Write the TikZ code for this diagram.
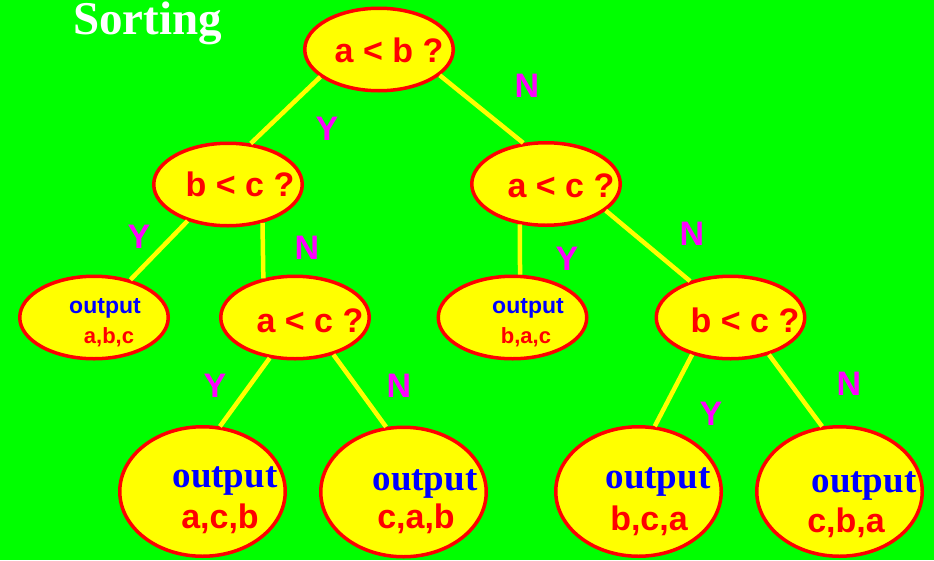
\documentclass[tikz,border=0pt]{standalone}
\usepackage{fontspec}
\setmainfont{Liberation Serif}
\newfontfamily\arial{Liberation Sans}
\usetikzlibrary{shapes.geometric}
\definecolor{bg}{RGB}{0,255,0}
\definecolor{eyel}{RGB}{255,255,0}
\definecolor{ered}{RGB}{255,0,0}
\definecolor{eblue}{RGB}{0,0,255}
\definecolor{emag}{RGB}{255,0,255}
\begin{document}
\begin{tikzpicture}[x=1pt,y=-1pt,
  q/.style={ellipse, draw=ered, line width=3.5pt, fill=eyel, minimum width=148.5pt, minimum height=82.5pt, inner sep=0pt},
  big/.style={q, minimum width=165.5pt, minimum height=129.5pt},
  edge/.style={draw=eyel, line width=4.5pt},
  qt/.style={anchor=base, text=ered, font=\arial\bfseries\fontsize{34}{34}\selectfont, inner sep=0pt},
  so/.style={anchor=base, text=eblue, font=\arial\bfseries\fontsize{23}{23}\selectfont, inner sep=0pt},
  sl/.style={anchor=base, text=ered, font=\arial\bfseries\fontsize{22}{22}\selectfont, inner sep=0pt},
  bo/.style={anchor=base, text=eblue, font=\bfseries\fontsize{37}{37}\selectfont, inner sep=0pt},
  bl/.style={anchor=base, text=ered, font=\arial\bfseries\fontsize{34}{34}\selectfont, inner sep=0pt},
  yn/.style={anchor=base, text=emag, font=\arial\bfseries\fontsize{34}{34}\selectfont, inner sep=0pt}
]
\fill[bg] (0,0) rectangle (934,560);
\useasboundingbox (0,0) rectangle (934,560);

\node[anchor=base, text=white, font=\bfseries\fontsize{47}{47}\selectfont, inner sep=0pt] (title) at (147.5,34.5) {Sorting};

% ellipses
\node[q] (r) at (379,49.5) {};
\node[q] (b1) at (228,184.5) {};
\node[q] (a1) at (546,184) {};
\node[q] (o1) at (94,317.5) {};
\node[q] (a2) at (295,317.5) {};
\node[q] (o2) at (512.5,317.5) {};
\node[q] (b2) at (730.5,317.5) {};
\node[big] (o3) at (202.5,491.5) {};
\node[big] (o4) at (403.5,492) {};
\node[big] (o5) at (638.5,491.5) {};
\node[big] (o6) at (839.5,491.5) {};

% edges
\draw[edge] (r.205) -- (b1.61);
\draw[edge] (r.337) -- (a1.119);
\draw[edge] (b1.222) -- (o1.46);
\draw[edge] (b1.312) -- (a2.129);
\draw[edge] (a1.237) -- (o2.80);
\draw[edge] (a1.336) -- (b2.138);
\draw[edge] (a2.238) -- (o3.75);
\draw[edge] (a2.316) -- (o4.105);
\draw[edge] (b2.224) -- (o5.76);
\draw[edge] (b2.316) -- (o6.105);

% texts
\node[qt] (rt) at (389,62) {a < b ?};
\node[qt] (b1t) at (240,196) {b < c ?};
\node[qt] (a1t) at (561,197) {a < c ?};
\node[qt] (a2t) at (310,332) {a < c ?};
\node[qt] (b2t) at (745,332) {b < c ?};

\node[so] (o1a) at (105,313) {output};
\node[sl] (o1b) at (109,343) {a,b,c};
\node[so] (o2a) at (528,313) {output};
\node[sl] (o2b) at (526,343) {b,a,c};

\node[bo] (o3a) at (225,487) {output};
\node[bl] (o3b) at (220,528) {a,c,b};
\node[bo] (o4a) at (425,490) {output};
\node[bl] (o4b) at (416,528) {c,a,b};
\node[bo] (o5a) at (658,488) {output};
\node[bl] (o5b) at (649,530) {b,c,a};
\node[bo] (o6a) at (864,492) {output};
\node[bl] (o6b) at (846,532) {c,b,a};

% Y / N labels
\node[yn] (y1) at (327,140) {Y};
\node[yn] (n1) at (527,97) {N};
\node[yn] (y2) at (139,248) {Y};
\node[yn] (n2) at (307,259) {N};
\node[yn] (y3) at (567,270) {Y};
\node[yn] (n3) at (692,245) {N};
\node[yn] (y4) at (215,397) {Y};
\node[yn] (n4) at (399,397) {N};
\node[yn] (y5) at (711,425) {Y};
\node[yn] (n5) at (849,395) {N};
\end{tikzpicture}
\end{document}
